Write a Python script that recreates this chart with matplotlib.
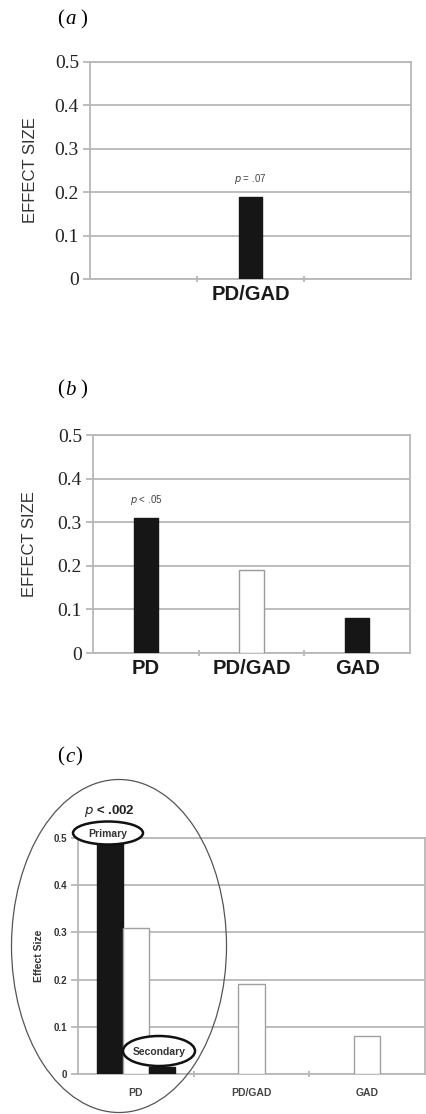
import matplotlib
matplotlib.use('Agg')
import matplotlib.pyplot as plt
from matplotlib.patches import Ellipse
import numpy as np

SERIF = 'Liberation Serif'
SANS = 'Liberation Sans'
GRID_C = '#b8b8b8'
BAR_K = '#161616'

# ── data ───────────────────────────────────────────────────────────────────
a_slots = ['', 'PD/GAD', '']
a_values = [np.nan, 0.19, np.nan]

b_groups = ['PD', 'PD/GAD', 'GAD']
b_values = [0.31, 0.19, 0.08]
b_colors = [BAR_K, 'white', BAR_K]

c_groups = ['PD', 'PD/GAD', 'GAD']
c_primary = [0.49, np.nan, np.nan]
c_combined = [0.31, 0.19, 0.08]
c_secondary = [0.015, np.nan, np.nan]

yticks = [0, 0.1, 0.2, 0.3, 0.4, 0.5]
ytick_labels = ['0', '0.1', '0.2', '0.3', '0.4', '0.5']

fig = plt.figure(figsize=(4.26, 11.14), dpi=100, facecolor='white')


def frame(ax, tick_font, tick_size, tick_weight, tick_color):
    ax.set_ylim(0, 0.5)
    ax.set_xlim(-0.5, 2.5)
    ax.set_yticks(yticks)
    ax.set_yticklabels(ytick_labels, fontfamily=tick_font, fontsize=tick_size,
                       fontweight=tick_weight, color=tick_color)
    for s in ax.spines.values():
        s.set_color(GRID_C)
        s.set_linewidth(1.3)
    ax.yaxis.grid(True, color=GRID_C, linewidth=1.3, zorder=0)
    ax.set_axisbelow(True)
    ax.set_xticks([0.5, 1.5], minor=True)
    ax.tick_params(axis='y', length=5, color=GRID_C, width=1.3, pad=3)
    ax.tick_params(axis='x', which='major', length=0)
    ax.tick_params(axis='x', which='minor', length=4, color=GRID_C,
                   width=1.3, direction='inout')


# ── panel (a) ──────────────────────────────────────────────────────────────
ax_a = fig.add_axes([90 / 426, 1 - 279 / 1114, 321 / 426, 217 / 1114])
x = np.arange(len(a_slots))
ax_a.bar(x, a_values, width=0.22, color=BAR_K, edgecolor=BAR_K, zorder=3)
frame(ax_a, SERIF, 14, 'normal', '#222222')
ax_a.set_xticks(x)
ax_a.set_xticklabels(a_slots, fontfamily=SANS, fontsize=14.5,
                     fontweight='bold', color='#1a1a1a')
ax_a.tick_params(axis='x', pad=4)
ax_a.set_ylabel('EFFECT SIZE', fontfamily=SANS, fontsize=12, color='#333333',
                labelpad=12)
ax_a.text(1, 0.215, r'$\it{p}$ = .07', ha='center', va='bottom',
          fontfamily=SANS, fontsize=7, color='#444444')
fig.text(57 / 426, 1 - 20 / 1114, '(', fontfamily=SERIF, fontsize=15,
         va='center', ha='left')
fig.text(65 / 426, 1 - 20 / 1114, 'a', fontfamily=SERIF, fontsize=15,
         style='italic', va='center', ha='left')
fig.text(80 / 426, 1 - 20 / 1114, ')', fontfamily=SERIF, fontsize=15,
         va='center', ha='left')

# ── panel (b) ──────────────────────────────────────────────────────────────
ax_b = fig.add_axes([93 / 426, 1 - 653 / 1114, 317 / 426, 218 / 1114])
x = np.arange(len(b_groups))
ax_b.bar(x, b_values, width=0.23, color=b_colors, edgecolor=['#161616', '#9a9a9a', '#161616'],
         linewidth=1.0, zorder=3)
frame(ax_b, SERIF, 14, 'normal', '#222222')
ax_b.set_xticks(x)
ax_b.set_xticklabels(b_groups, fontfamily=SANS, fontsize=14.5,
                     fontweight='bold', color='#1a1a1a')
ax_b.tick_params(axis='x', pad=4)
ax_b.set_ylabel('EFFECT SIZE', fontfamily=SANS, fontsize=12, color='#333333',
                labelpad=15)
ax_b.text(0, 0.335, r'$\it{p}$ < .05', ha='center', va='bottom',
          fontfamily=SANS, fontsize=7, color='#444444')
fig.text(57 / 426, 1 - 390 / 1114, '(', fontfamily=SERIF, fontsize=15,
         va='center', ha='left')
fig.text(65 / 426, 1 - 390 / 1114, 'b', fontfamily=SERIF, fontsize=15,
         style='italic', va='center', ha='left')
fig.text(80 / 426, 1 - 390 / 1114, ')', fontfamily=SERIF, fontsize=15,
         va='center', ha='left')

# ── panel (c) ──────────────────────────────────────────────────────────────
ax_c = fig.add_axes([78 / 426, 1 - 1074 / 1114, 347 / 426, 236 / 1114])
x = np.arange(len(c_groups))
w = 0.225
ax_c.bar(x - w, c_primary, width=w, color=BAR_K, edgecolor=BAR_K, zorder=3)
ax_c.bar(x, c_combined, width=w, color='white', edgecolor='#a0a0a0',
         linewidth=1.0, zorder=3)
ax_c.bar(x + w, c_secondary, width=w, color=BAR_K, edgecolor=BAR_K, zorder=3)
frame(ax_c, SANS, 7, 'bold', '#333333')
ax_c.set_xticks(x)
ax_c.set_xticklabels(c_groups, fontfamily=SANS, fontsize=7.5,
                     fontweight='bold', color='#444444')
ax_c.tick_params(axis='x', pad=10)
ax_c.set_ylabel('Effect Size', fontfamily=SANS, fontsize=7.5,
                fontweight='bold', color='#333333', labelpad=7)
ax_c.text(0 - w, 0.54, r'$\mathbf{\it{p}}$ < .002', ha='center', va='bottom',
          fontfamily=SANS, fontsize=9.5, fontweight='bold', color='#222222')

# annotation ellipses (figure pixel coordinates)
def fig_ellipse(cx, cy, wd, ht, **kw):
    e = Ellipse((cx / 426, 1 - cy / 1114), wd / 426, ht / 1114,
                transform=fig.transFigure, **kw)
    fig.add_artist(e)
    return e

fig_ellipse(119, 946, 215, 333, facecolor='none', edgecolor='#555555',
            linewidth=0.9, zorder=5)
fig_ellipse(108, 833, 70, 23, facecolor='white', edgecolor='#111111',
            linewidth=1.8, zorder=6)
fig_ellipse(159, 1051, 72, 30, facecolor='white', edgecolor='#111111',
            linewidth=1.8, zorder=6)
fig.text(108 / 426, 1 - 834 / 1114, 'Primary', ha='center', va='center',
         fontfamily=SANS, fontsize=7.5, fontweight='bold', color='#333333',
         zorder=7)
fig.text(159 / 426, 1 - 1052 / 1114, 'Secondary', ha='center', va='center',
         fontfamily=SANS, fontsize=7.5, fontweight='bold', color='#333333',
         zorder=7)
fig.text(57 / 426, 1 - 757 / 1114, '(', fontfamily=SERIF, fontsize=15,
         va='center', ha='left')
fig.text(65 / 426, 1 - 757 / 1114, 'c', fontfamily=SERIF, fontsize=15,
         style='italic', va='center', ha='left')
fig.text(75 / 426, 1 - 757 / 1114, ')', fontfamily=SERIF, fontsize=15,
         va='center', ha='left')

fig.savefig('out.png', dpi=100, facecolor='white')
plt.close(fig)
